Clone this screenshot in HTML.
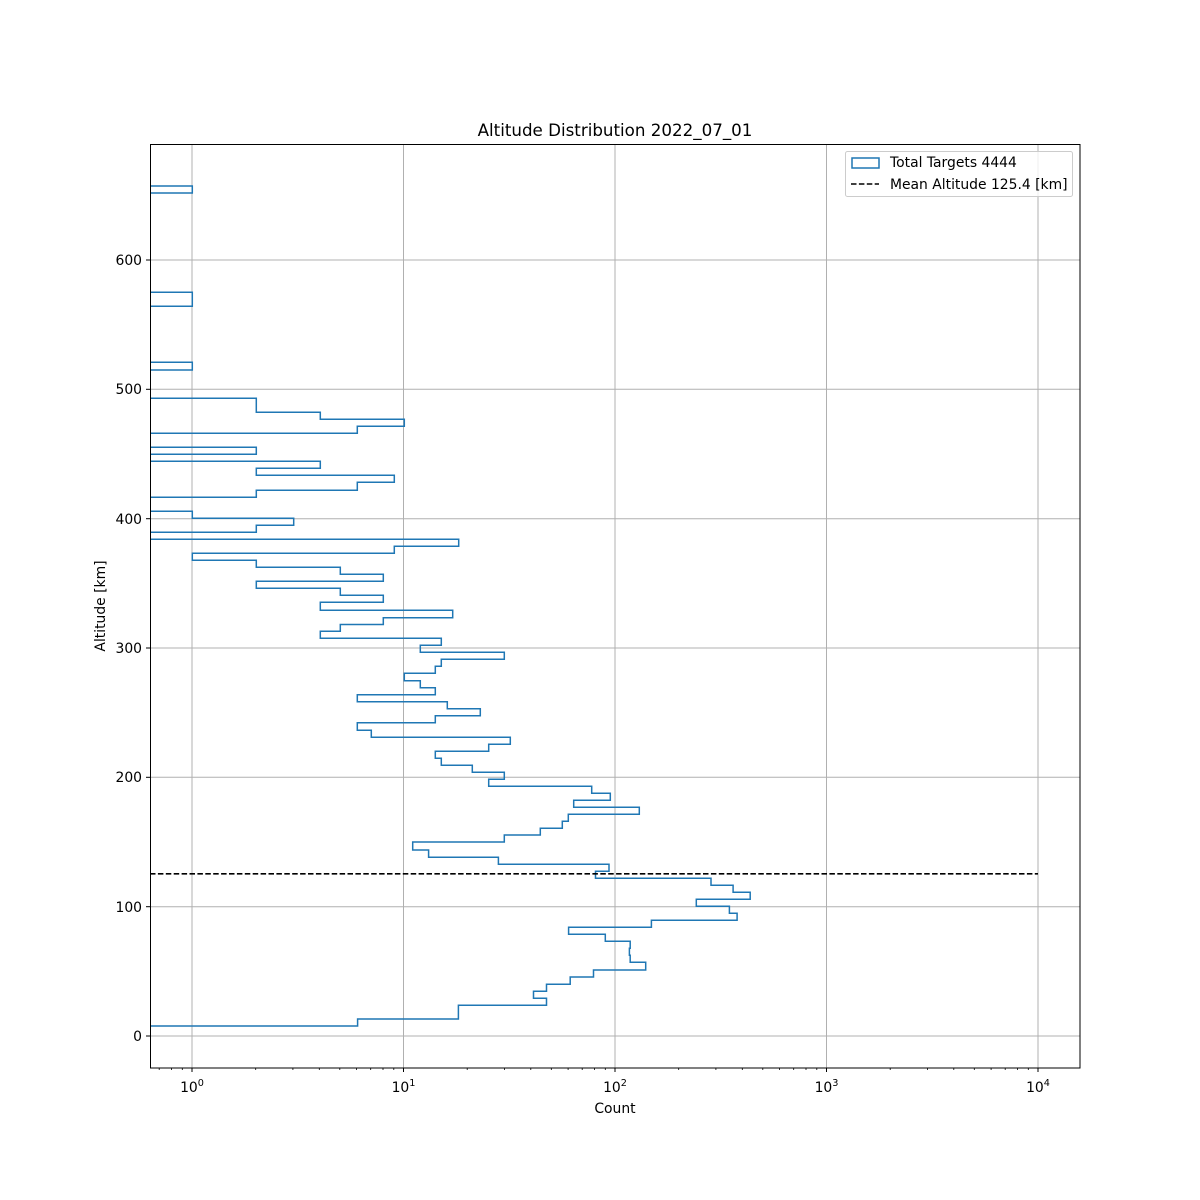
<!DOCTYPE html>
<html><head><meta charset="utf-8"><style>
html,body{margin:0;padding:0;background:#fff}
svg{display:block;font-family:"DejaVu Sans","Liberation Sans",sans-serif}
</style></head><body>
<svg width="1200" height="1200" viewBox="0 0 1200 1200" xmlns="http://www.w3.org/2000/svg">
<defs><clipPath id="c"><rect x="150" y="144" width="930" height="924"/></clipPath></defs>
<rect width="1200" height="1200" fill="#fff"/>
<g stroke="#b0b0b0" stroke-width="1">
<line x1="192" y1="144" x2="192" y2="1068"/>
<line x1="403.5" y1="144" x2="403.5" y2="1068"/>
<line x1="615" y1="144" x2="615" y2="1068"/>
<line x1="826.5" y1="144" x2="826.5" y2="1068"/>
<line x1="1038" y1="144" x2="1038" y2="1068"/>
<line x1="150" y1="1036" x2="1080" y2="1036"/>
<line x1="150" y1="906.7" x2="1080" y2="906.7"/>
<line x1="150" y1="777.3" x2="1080" y2="777.3"/>
<line x1="150" y1="648" x2="1080" y2="648"/>
<line x1="150" y1="518.7" x2="1080" y2="518.7"/>
<line x1="150" y1="389.3" x2="1080" y2="389.3"/>
<line x1="150" y1="260" x2="1080" y2="260"/>
</g>
<g clip-path="url(#c)">
<path fill="none" stroke="#1f77b4" stroke-width="1.5" d="M140,1026 H357.6 V1019 H458.4 V1005.3 H546.5 V998.3 H533.5 V991.3 H546.5 V984.3 H570.2 V977 H593.5 V970 H645.7 V962.3 H630.2 V955.3 H629.4 V948.3 H630.2 V941.3 H605.3 V934.3 H568.6 V927.3 H651.4 V920.3 H737.1 V913.3 H729.4 V906.3 H696.3 V899.3 H750.2 V892.3 H733.1 V885.3 H711 V878.3 H595.5 V871.3 H609 V864.3 H498.4 V857.3 H428.6 V850 H412.7 V842 H504.3 V835 H540.3 V828.3 H562.3 V821.3 H568.3 V814.3 H639.3 V807.3 H573.7 V800.3 H610.3 V793.3 H591.7 V786.3 H488.7 V779.3 H504.3 V772.3 H472.3 V765.3 H441.3 V758.3 H435.3 V751.3 H488.7 V744.3 H510.3 V737.3 H371.3 V730.3 H357.3 V722.7 H435.3 V715.7 H480.3 V708.7 H447.3 V701.7 H357.3 V694.7 H435.3 V687.7 H420.3 V680.7 H404.3 V673.3 H435.3 V666.3 H441.3 V659.3 H504.3 V652.3 H420.3 V645.3 H441.3 V638.3 H320.3 V631.3 H340.3 V624.5 H383.3 V617.7 H452.7 V610.3 H320.3 V602.3 H383.3 V595.3 H340.3 V588.3 H256.3 V581.3 H383.3 V574.3 H340.3 V567.3 H256.3 V560.3 H192.3 V553.3 H394.3 V546.3 H458.7 V539.3 H140 V532.3 H256.3 V525.3 H293.7 V518.3 H192.3 V511.3 H140 V497.3 H256.3 V490.3 H357.3 V482.3 H394.3 V475.3 H256.3 V468.3 H320.3 V461.3 H140 V454.3 H256.3 V447.3 H140 V433.3 H357.3 V426.3 H404.3 V419.3 H320.3 V412.3 H256.3 V398.3 H140 V370 H192.3 V362.3 H140 V306.3 H192.3 V292.3 H140 V193 H192.3 V186 H140"/>
<line x1="150" y1="873.8" x2="1038" y2="873.8" stroke="#000" stroke-width="1.6" stroke-dasharray="5.5,2.4"/>
</g>
<rect x="150.5" y="144.5" width="929.5" height="923.5" fill="none" stroke="#000" stroke-width="1"/>
<g stroke="#000" stroke-width="1">
<line x1="192" y1="1068" x2="192" y2="1072"/><line x1="403.5" y1="1068" x2="403.5" y2="1072"/><line x1="615" y1="1068" x2="615" y2="1072"/><line x1="826.5" y1="1068" x2="826.5" y2="1072"/><line x1="1038" y1="1068" x2="1038" y2="1072"/>
<line x1="146" y1="1036" x2="150" y2="1036"/><line x1="146" y1="906.7" x2="150" y2="906.7"/><line x1="146" y1="777.3" x2="150" y2="777.3"/><line x1="146" y1="648" x2="150" y2="648"/><line x1="146" y1="518.7" x2="150" y2="518.7"/><line x1="146" y1="389.3" x2="150" y2="389.3"/><line x1="146" y1="260" x2="150" y2="260"/>
</g>
<g stroke="#000" stroke-width="0.8">
<path d="M159.2,1068v2M171.5,1068v2M182.3,1068v2
M255.7,1068v2M292.9,1068v2M319.3,1068v2M339.8,1068v2M356.6,1068v2M370.7,1068v2M383,1068v2M393.8,1068v2
M467.2,1068v2M504.4,1068v2M530.8,1068v2M551.3,1068v2M568.1,1068v2M582.2,1068v2M594.5,1068v2M605.3,1068v2
M678.7,1068v2M715.9,1068v2M742.3,1068v2M762.8,1068v2M779.6,1068v2M793.7,1068v2M806,1068v2M816.8,1068v2
M890.2,1068v2M927.4,1068v2M953.8,1068v2M974.3,1068v2M991.1,1068v2M1005.2,1068v2M1017.5,1068v2M1028.3,1068v2"/>
</g>
<g font-size="13.9" fill="#000" text-anchor="end">
<text x="142" y="1041">0</text>
<text x="142" y="912">100</text>
<text x="142" y="782">200</text>
<text x="142" y="653">300</text>
<text x="142" y="524">400</text>
<text x="142" y="394">500</text>
<text x="142" y="265">600</text>
</g>
<g font-size="13.9" fill="#000" text-anchor="middle">
<text x="192" y="1092">10<tspan font-size="9.7" dy="-6">0</tspan></text>
<text x="403.5" y="1092">10<tspan font-size="9.7" dy="-6">1</tspan></text>
<text x="615" y="1092">10<tspan font-size="9.7" dy="-6">2</tspan></text>
<text x="826.5" y="1092">10<tspan font-size="9.7" dy="-6">3</tspan></text>
<text x="1038" y="1092">10<tspan font-size="9.7" dy="-6">4</tspan></text>
<text x="615" y="1113">Count</text>
<text x="0" y="0" transform="translate(105,606) rotate(-90)">Altitude [km]</text>
<text x="615" y="136" font-size="16.7">Altitude Distribution 2022_07_01</text>
</g>
<rect x="845.5" y="151.5" width="227" height="45" rx="2" fill="#fff" fill-opacity="0.8" stroke="#ccc"/>
<rect x="852" y="158" width="27" height="10" fill="none" stroke="#1f77b4" stroke-width="1.5"/>
<line x1="851" y1="184" x2="879" y2="184" stroke="#000" stroke-width="1.6" stroke-dasharray="5.5,2.4"/>
<g font-size="13.9" fill="#000">
<text x="890" y="167">Total Targets 4444</text>
<text x="890" y="189">Mean Altitude 125.4 [km]</text>
</g>
</svg>
</body></html>
